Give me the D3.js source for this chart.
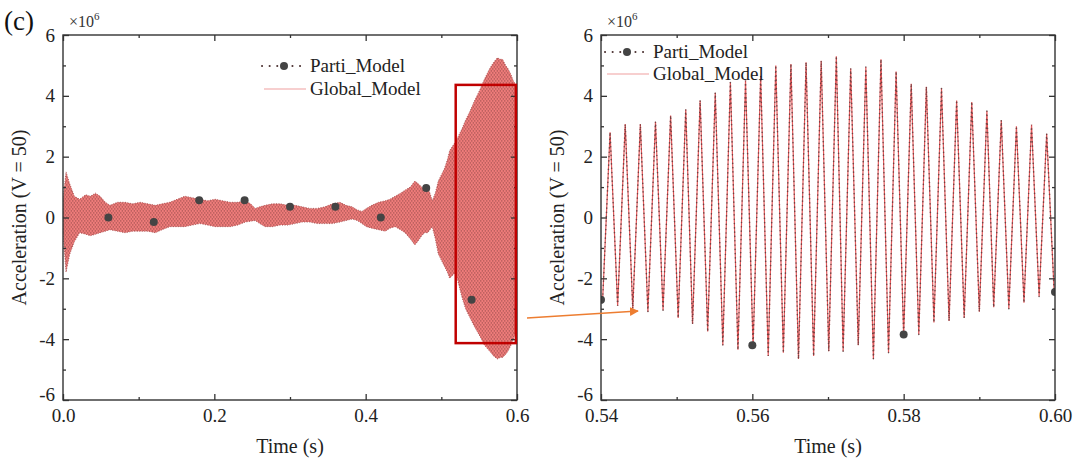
<!DOCTYPE html>
<html>
<head>
<meta charset="utf-8">
<script src="https://cdn.jsdelivr.net/npm/d3@7"></script>
<style>
  body { margin: 0; background: #fff; }
  svg { font-family: "Liberation Serif", "Times New Roman", serif; }
</style>
</head>
<body>
<svg id="chart" width="1078" height="463"></svg>
<script>
// all accelerations in units of 1e6

// full record (left panel): the signal is far too dense to trace,
// so keep its upper / lower envelope
const envTime = [0, 0.004, 0.009, 0.015, 0.022, 0.03, 0.036, 0.043, 0.049, 0.056, 0.062, 0.072, 0.082, 0.092,
  0.102, 0.112, 0.122, 0.131, 0.141, 0.151, 0.161, 0.171, 0.181, 0.191, 0.201, 0.211, 0.221, 0.231, 0.241,
  0.248, 0.254, 0.26, 0.267, 0.277, 0.287, 0.297, 0.307, 0.316, 0.326, 0.336, 0.346, 0.356, 0.366, 0.374,
  0.382, 0.389, 0.395, 0.401, 0.408, 0.417, 0.426, 0.432, 0.439, 0.446, 0.452, 0.459, 0.465, 0.47, 0.474,
  0.478, 0.482, 0.485, 0.488, 0.492, 0.496, 0.5, 0.504, 0.508, 0.511, 0.515, 0.519, 0.523, 0.527, 0.532,
  0.538, 0.544, 0.551, 0.557, 0.564, 0.569, 0.574, 0.578, 0.581, 0.585, 0.588, 0.592, 0.595, 0.6];
const envHigh = [0.6, 1.5, 1.1, 0.7, 0.6, 0.75, 0.7, 0.8, 0.7, 0.5, 0.4, 0.5, 0.5, 0.45,
  0.5, 0.45, 0.4, 0.45, 0.5, 0.6, 0.7, 0.65, 0.6, 0.55, 0.6, 0.55, 0.5, 0.5, 0.55,
  0.45, 0.3, 0.35, 0.4, 0.45, 0.45, 0.4, 0.4, 0.35, 0.3, 0.3, 0.35, 0.45, 0.5, 0.4,
  0.35, 0.25, 0.2, 0.3, 0.4, 0.5, 0.55, 0.6, 0.7, 0.8, 0.9, 1.0, 1.2, 1.1, 1.0,
  0.9, 1.0, 0.8, 0.55, 0.8, 1.2, 1.4, 1.6, 1.9, 2.2, 2.35, 2.5, 2.7, 2.9, 3.2,
  3.5, 3.85, 4.2, 4.55, 4.9, 5.1, 5.25, 5.2, 5.2, 5.0, 4.9, 4.7, 4.5, 4.3];
const envLow = [-0.5, -1.8, -1.2, -0.8, -0.5, -0.55, -0.6, -0.55, -0.5, -0.45, -0.4, -0.45, -0.5, -0.45,
  -0.45, -0.45, -0.5, -0.4, -0.3, -0.3, -0.3, -0.25, -0.2, -0.25, -0.3, -0.3, -0.3, -0.25, -0.15,
  -0.12, -0.1, -0.2, -0.3, -0.3, -0.25, -0.25, -0.2, -0.15, -0.15, -0.2, -0.2, -0.2, -0.15, -0.1,
  -0.05, -0.1, -0.2, -0.3, -0.35, -0.4, -0.45, -0.35, -0.3, -0.4, -0.5, -0.7, -0.9, -0.75, -0.6,
  -0.5, -0.5, -0.4, -0.3, -0.7, -1.2, -1.4, -1.6, -1.8, -2.0, -1.9, -1.8, -2.2, -2.6, -3.0,
  -3.3, -3.6, -3.9, -4.2, -4.4, -4.55, -4.65, -4.6, -4.6, -4.5, -4.4, -4.2, -4.0, -3.6];

// large Parti_Model symbols (one every 0.06 s on the full record)
const markTimeL = [0.06, 0.12, 0.18, 0.24, 0.30, 0.36, 0.42, 0.48, 0.54];
const markValL = [0.0, -0.15, 0.57, 0.57, 0.35, 0.35, 0.0, 0.97, -2.7];

// zoomed window 0.54 - 0.60 s: crests and troughs of the oscillation
const peakTime = [0.5412, 0.5432, 0.5452, 0.5472, 0.5492, 0.5512, 0.5531, 0.5551, 0.5571, 0.5591,
  0.5611, 0.5631, 0.5651, 0.5671, 0.5691, 0.5711, 0.5730, 0.5750, 0.5770, 0.5790,
  0.5810, 0.5830, 0.5850, 0.5870, 0.5890, 0.5910, 0.5929, 0.5949, 0.5969, 0.5989];
const peakVal = [2.8, 3.07, 3.07, 3.15, 3.35, 3.55, 3.85, 4.1, 4.45, 4.5,
  4.65, 5.0, 5.05, 5.1, 5.15, 5.3, 4.9, 4.95, 5.2, 4.8,
  4.4, 4.3, 4.25, 3.85, 3.8, 3.5, 3.2, 3.0, 3.05, 2.75];
const troughTime = [0.5402, 0.5422, 0.5442, 0.5462, 0.5482, 0.5502, 0.5521, 0.5541, 0.5561, 0.5581,
  0.5601, 0.5621, 0.5641, 0.5661, 0.5681, 0.5701, 0.5720, 0.5740, 0.5760, 0.5780,
  0.5800, 0.5820, 0.5840, 0.5860, 0.5880, 0.5900, 0.5919, 0.5939, 0.5959, 0.5979, 0.5999];
const troughVal = [-2.8, -2.9, -3.0, -3.1, -3.05, -3.3, -3.5, -3.75, -4.2, -4.35,
  -4.25, -4.55, -4.45, -4.65, -4.55, -4.4, -4.4, -4.2, -4.65, -4.45,
  -3.9, -3.85, -3.45, -3.4, -3.3, -3.1, -2.95, -3.0, -2.8, -2.6, -2.5];

const markTimeR = [0.54, 0.56, 0.58, 0.60];
const markValR = [-2.7, -4.2, -3.85, -2.45];

const yMajor = [-6, -4, -2, 0, 2, 4, 6];
const yMinor = [-5, -3, -1, 1, 3, 5];
const xMajorL = [0, 0.2, 0.4, 0.6];
const xMinorL = [0.1, 0.3, 0.5];
const xMajorR = [0.54, 0.56, 0.58, 0.60];
const xMinorR = [0.55, 0.57, 0.59];

const red = '#e45a5c';
const dark = '#4e3434';
const ink = '#222';

var svg = d3.select('#chart');
var top0 = 35, bottom0 = 400;

var y = d3.scaleLinear().domain([-6, 6]).range([bottom0, top0]);

var panels = [
    { name: 'L', left: 63, right: 517, domain: [0, 0.6], major: xMajorL, minor: xMinorL, fmt: d3.format('.1f') },
    { name: 'R', left: 601, right: 1055, domain: [0.54, 0.60], major: xMajorR, minor: xMinorR, fmt: d3.format('.2f') }
];
panels.forEach(p => p.x = d3.scaleLinear().domain(p.domain).range([p.left, p.right]));

var defs = svg.append('defs');

// texture standing in for the densely packed oscillation
var pat = defs.append('pattern')
    .attr('id', 'dense')
    .attr('patternUnits', 'userSpaceOnUse')
    .attr('width', 3).attr('height', 4);
pat.append('rect').attr('width', 3).attr('height', 4).attr('fill', '#ee7c7a');
pat.append('circle').attr('cx', 0.8).attr('cy', 0.9).attr('r', 0.7).attr('fill', '#7c3a3a').attr('opacity', 0.75);
pat.append('circle').attr('cx', 2.3).attr('cy', 2.9).attr('r', 0.7).attr('fill', '#7c3a3a').attr('opacity', 0.75);

panels.forEach(p => {
    defs.append('clipPath').attr('id', 'clip' + p.name)
        .append('rect')
        .attr('x', p.left).attr('y', top0)
        .attr('width', p.right - p.left).attr('height', bottom0 - top0);
});

// ---------- left panel: full record ----------
var pl = panels[0];
var gL = svg.append('g').attr('clip-path', 'url(#clipL)');

var env = envTime.map((t, i) => ({ t: t, hi: envHigh[i], lo: envLow[i] }));

gL.append('path')
    .datum(env)
    .attr('d', d3.area()
        .x(d => pl.x(d.t))
        .y0(d => y(d.lo))
        .y1(d => y(d.hi)))
    .attr('fill', 'url(#dense)')
    .attr('stroke', '#a84c4c')
    .attr('stroke-width', 0.9)
    .attr('stroke-dasharray', '1 1.5');

gL.selectAll('circle.mark')
    .data(markTimeL.map((t, i) => [t, markValL[i]]))
    .enter().append('circle')
        .attr('class', 'mark')
        .attr('cx', d => pl.x(d[0]))
        .attr('cy', d => y(d[1]))
        .attr('r', 4)
        .attr('fill', '#444');

// ---------- right panel: zoom 0.54 - 0.60 s ----------
var pr = panels[1];
var gR = svg.append('g').attr('clip-path', 'url(#clipR)');

var wave = peakTime.map((t, i) => [t, peakVal[i]])
    .concat(troughTime.map((t, i) => [t, troughVal[i]]))
    .sort((a, b) => a[0] - b[0]);

var line = d3.line().x(d => pr.x(d[0])).y(d => y(d[1]));

gR.append('path')
    .datum(wave)
    .attr('d', line)
    .attr('fill', 'none')
    .attr('stroke', red)
    .attr('stroke-width', 1.2);

// Parti_Model drawn over it as a dotted line
gR.append('path')
    .datum(wave)
    .attr('d', line)
    .attr('fill', 'none')
    .attr('stroke', dark)
    .attr('stroke-width', 1.6)
    .attr('stroke-opacity', 0.75)
    .attr('stroke-linecap', 'round')
    .attr('stroke-dasharray', '0.1 4.2');

gR.selectAll('circle.mark')
    .data(markTimeR.map((t, i) => [t, markValR[i]]))
    .enter().append('circle')
        .attr('class', 'mark')
        .attr('cx', d => pr.x(d[0]))
        .attr('cy', d => y(d[1]))
        .attr('r', 4)
        .attr('fill', '#444');

// ---------- frames and axes ----------
var plain = d => String(d);

panels.forEach(p => {
    var g = svg.append('g');

    g.append('rect')
        .attr('x', p.left).attr('y', top0)
        .attr('width', p.right - p.left).attr('height', bottom0 - top0)
        .attr('fill', 'none')
        .attr('stroke', '#333')
        .attr('stroke-width', 1.4);

    // bottom / top
    g.append('g').attr('transform', `translate(0,${bottom0})`)
        .call(d3.axisBottom(p.x).tickValues(p.major).tickFormat(p.fmt).tickSize(-6).tickSizeOuter(0).tickPadding(9));
    g.append('g').attr('transform', `translate(0,${bottom0})`)
        .call(d3.axisBottom(p.x).tickValues(p.minor).tickFormat('').tickSize(-3).tickSizeOuter(0));
    g.append('g').attr('transform', `translate(0,${top0})`)
        .call(d3.axisTop(p.x).tickValues(p.major).tickFormat('').tickSize(-6).tickSizeOuter(0));
    g.append('g').attr('transform', `translate(0,${top0})`)
        .call(d3.axisTop(p.x).tickValues(p.minor).tickFormat('').tickSize(-3).tickSizeOuter(0));

    // left / right
    var yl = g.append('g').attr('transform', `translate(${p.left},0)`)
        .call(d3.axisLeft(y).tickValues(yMajor).tickFormat(plain).tickSize(-6).tickSizeOuter(0).tickPadding(8));
    yl.selectAll('.tick').filter(d => d === -6).select('text').attr('dy', '0.05em');
    g.append('g').attr('transform', `translate(${p.left},0)`)
        .call(d3.axisLeft(y).tickValues(yMinor).tickFormat('').tickSize(-3).tickSizeOuter(0));
    g.append('g').attr('transform', `translate(${p.right},0)`)
        .call(d3.axisRight(y).tickValues(yMajor).tickFormat('').tickSize(-6).tickSizeOuter(0));
    g.append('g').attr('transform', `translate(${p.right},0)`)
        .call(d3.axisRight(y).tickValues(yMinor).tickFormat('').tickSize(-3).tickSizeOuter(0));

    g.selectAll('.domain').remove();
    g.selectAll('.tick line').attr('stroke', '#333').attr('stroke-width', 1.3);
    g.selectAll('.tick text')
        .attr('font-family', '"Liberation Serif", serif')
        .attr('font-size', 19)
        .attr('fill', ink);

    // axis titles
    g.append('text')
        .attr('x', (p.left + p.right) / 2).attr('y', 453)
        .attr('text-anchor', 'middle')
        .attr('font-size', 20).attr('fill', ink)
        .text('Time (s)');
    g.append('text')
        .attr('transform', `translate(${p.left - 37},${(top0 + bottom0) / 2}) rotate(-90)`)
        .attr('text-anchor', 'middle')
        .attr('font-size', 20).attr('fill', ink)
        .text('Acceleration (V = 50)');

    // exponent
    var ex = g.append('text')
        .attr('x', p.left + 6).attr('y', 27)
        .attr('font-size', 16).attr('fill', '#333');
    ex.append('tspan').text('\u00d710');
    ex.append('tspan').attr('dy', -7).attr('font-size', 11).text('6');
});

// ---------- legends ----------
function legend(x0, yTop, gap) {
    var g = svg.append('g');
    g.append('line')
        .attr('x1', x0).attr('x2', x0 + 44)
        .attr('y1', yTop).attr('y2', yTop)
        .attr('stroke', dark).attr('stroke-width', 2)
        .attr('stroke-linecap', 'round')
        .attr('stroke-dasharray', '0.1 7.5');
    g.append('circle')
        .attr('cx', x0 + 22).attr('cy', yTop).attr('r', 4)
        .attr('fill', '#444');
    g.append('text')
        .attr('x', x0 + 48).attr('y', yTop + 6)
        .attr('font-size', 19).attr('fill', ink)
        .text('Parti_Model');
    g.append('line')
        .attr('x1', x0 + 2).attr('x2', x0 + 44)
        .attr('y1', yTop + gap).attr('y2', yTop + gap)
        .attr('stroke', '#f0a0a0').attr('stroke-width', 1.2);
    g.append('text')
        .attr('x', x0 + 48).attr('y', yTop + gap + 6)
        .attr('font-size', 19).attr('fill', ink)
        .text('Global_Model');
}
legend(262, 66, 23);
legend(605, 52, 22);

// ---------- zoom box and arrow ----------
svg.append('rect')
    .attr('x', pl.x(0.519)).attr('y', y(4.36))
    .attr('width', pl.x(0.5985) - pl.x(0.519))
    .attr('height', y(-4.13) - y(4.36))
    .attr('fill', 'none')
    .attr('stroke', '#c00000')
    .attr('stroke-width', 2.5);

defs.append('marker')
    .attr('id', 'head')
    .attr('viewBox', '0 0 10 10')
    .attr('refX', 9).attr('refY', 5)
    .attr('markerWidth', 9).attr('markerHeight', 9)
    .attr('markerUnits', 'userSpaceOnUse')
    .attr('orient', 'auto')
    .append('path').attr('d', 'M0,0L10,5L0,10z').attr('fill', '#ed7d31');

svg.append('line')
    .attr('x1', 527).attr('y1', 318)
    .attr('x2', 638).attr('y2', 311)
    .attr('stroke', '#ed7d31').attr('stroke-width', 1.3)
    .attr('marker-end', 'url(#head)');

// panel tag
svg.append('text')
    .attr('x', 4).attr('y', 30)
    .attr('font-size', 27).attr('fill', '#111')
    .text('(c)');
</script>
</body>
</html>
